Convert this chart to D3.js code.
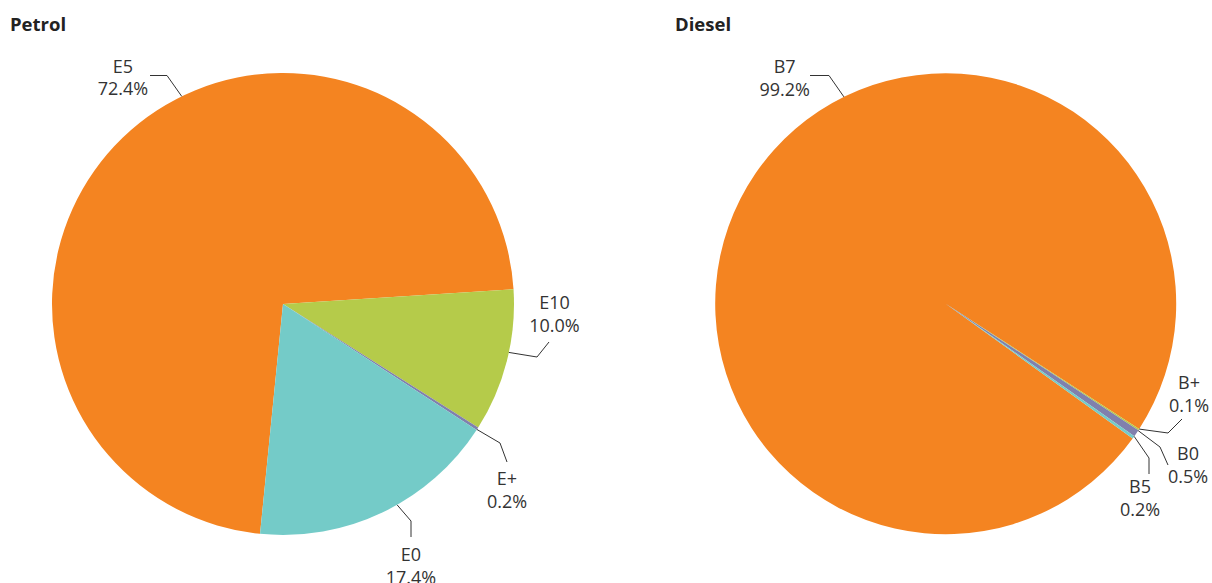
<!DOCTYPE html>
<html>
<head>
<meta charset="utf-8">
<script src="https://cdn.jsdelivr.net/npm/d3@7/dist/d3.min.js"></script>
<style>
  html, body { margin: 0; padding: 0; background: #fff; }
  svg { display: block; font-family: "Open Sans", sans-serif; }
</style>
</head>
<body>
<svg id="chart" width="1212" height="583"></svg>
<script>
// ---- Data ----
const petrolCategories = ["E5", "E10", "E+", "E0"];
const petrolValues = [72.4, 10.0, 0.2, 17.4];
const petrolLabels = ["72.4%", "10.0%", "0.2%", "17.4%"];

const dieselCategories = ["B7", "B+", "B0", "B5"];
const dieselValues = [99.2, 0.1, 0.5, 0.2];
const dieselLabels = ["99.2%", "0.1%", "0.5%", "0.2%"];

const petrolColors = ["#f48421", "#b5cb4a", "#8080ad", "#74cbc8"];
const dieselColors = ["#f48421", "#b5cb4a", "#8080ad", "#74cbc8"];

// ---- Layout (label placement relative to pie centre) ----
// [attachAngleDeg, bendDx, bendDy, endDx, endDy, labelCx, labelBaseline]
const petrolLabelLayout = [
  [334.0, -116, -228.5, -133, -228.5, -160, -231.3],
  [102.1, 254, 53, 266, 38, 271.5, 5.3],
  [122.9, 217, 139, 224, 158, 224, 181],
  [150.4, 128, 217, 128, 233, 128, 257]
];
const dieselLabelLayout = [
  [333.8, -116.7, -228.2, -135.7, -228.2, -161, -230.4],
  [122.95, 222.3, 129.3, 236.3, 115.3, 243.3, 85.6],
  [123.4, 214.3, 143.3, 222.3, 161.3, 242.3, 156.3],
  [125.15, 203.3, 154.3, 203.3, 170.3, 194.3, 189.6]
];

const svg = d3.select("#chart");
const deg = Math.PI / 180;

function drawPie(opts) {
  const g = svg.append("g");
  g.append("text")
    .attr("x", opts.titleX).attr("y", 31)
    .attr("font-size", 18.5).attr("font-weight", 700)
    .attr("fill", "#222")
    .text(opts.title);

  const data = opts.categories.map((c, i) => ({
    name: c, value: opts.values[i], label: opts.labels[i],
    color: opts.colors[i], layout: opts.layout[i]
  }));

  const pie = d3.pie().sort(null).value(d => d.value)
    .startAngle(opts.start * deg).endAngle(opts.start * deg + 2 * Math.PI);
  const arc = d3.arc().innerRadius(0).outerRadius(opts.r);

  const pg = g.append("g").attr("transform", `translate(${opts.cx},${opts.cy})`);
  pg.selectAll("path.slice").data(pie(data)).join("path")
    .attr("class", "slice")
    .attr("d", arc)
    .attr("fill", d => d.data.color);

  const lg = pg.append("g");
  data.forEach(d => {
    const L = d.layout;
    const a = L[0] * deg;
    const ex = opts.r * Math.sin(a), ey = -opts.r * Math.cos(a);
    lg.append("polyline")
      .attr("points", [[ex, ey], [L[1], L[2]], [L[3], L[4]]].map(p => p.join(",")).join(" "))
      .attr("fill", "none").attr("stroke", "#333").attr("stroke-width", 1);
    const t = lg.append("text")
      .attr("text-anchor", "middle")
      .attr("font-size", 18)
      .attr("fill", "#333");
    t.append("tspan").attr("x", L[5]).attr("y", L[6]).text(d.name);
    t.append("tspan").attr("x", L[5]).attr("y", L[6] + 22.7).text(d.label);
  });
}

drawPie({
  title: "Petrol", titleX: 10, cx: 283, cy: 304, r: 231, start: 185.7,
  categories: petrolCategories, values: petrolValues, labels: petrolLabels,
  colors: petrolColors, layout: petrolLabelLayout
});
drawPie({
  title: "Diesel", titleX: 675, cx: 945.7, cy: 303.7, r: 230.5, start: 125.8,
  categories: dieselCategories, values: dieselValues, labels: dieselLabels,
  colors: dieselColors, layout: dieselLabelLayout
});
</script>
</body>
</html>
